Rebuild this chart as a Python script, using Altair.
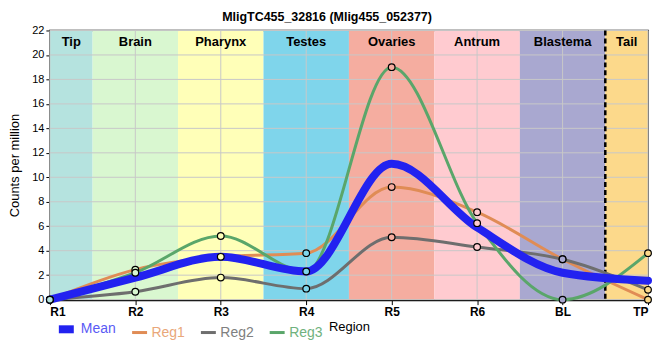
import json
import altair as alt
import pandas as pd

# ---- data ----
regions = ["R1", "R2", "R3", "R4", "R5", "R6", "BL", "TP"]
region_pos = [0, 1, 2, 3, 4, 5, 6, 7]
mean_vals = [0, 1.8, 3.5, 2.3, 11.1, 5.9, 2.2, 1.55]
reg1_vals = [0, 2.45, 3.5, 3.8, 9.2, 7.15, 3.3, 0]
reg2_vals = [0, 0.65, 1.8, 0.9, 5.1, 4.3, 3.3, 0.8]
reg3_vals = [0, 2.2, 5.2, 2.3, 19.0, 6.25, 0, 3.8]

band_names = ["Tip", "Brain", "Pharynx", "Testes", "Ovaries", "Antrum", "Blastema", "Tail"]
band_start = [0, 0.5, 1.5, 2.5, 3.5, 4.5, 5.5, 6.5]
band_end = [0.5, 1.5, 2.5, 3.5, 4.5, 5.5, 6.5, 7]
band_colors = ["#b5e3df", "#d9f7d0", "#ffffb8", "#7fd5eb", "#f5ada0",
               "#ffcbd0", "#a9a8d0", "#fcd98b"]

y_ticks = [0, 2, 4, 6, 8, 10, 12, 14, 16, 18, 20, 22]
tail_boundary = [6.5]

series_names = ["Mean", "Reg1", "Reg2", "Reg3"]
series_colors = ["#2222f0", "#e08c55", "#6e6e6e", "#5aa66a"]
series_widths = [8, 3, 3, 3]
label_colors = ["#5a5af5", "#e9a77a", "#808080", "#70b27e"]

# ---- tables ----
rows = []
for name, vals in zip(series_names, [mean_vals, reg1_vals, reg2_vals, reg3_vals]):
    for i, v in enumerate(vals):
        rows.append({"series": name, "x": region_pos[i], "value": v, "band": band_names[i]})
lines_df = pd.DataFrame(rows)
bands_df = pd.DataFrame({"band": band_names, "start": band_start, "end": band_end})
vgrid_df = pd.DataFrame({"x": region_pos})
hgrid_df = pd.DataFrame({"value": y_ticks})
dash_df = pd.DataFrame({"x": tail_boundary})

xscale = alt.Scale(domain=[0, 7], nice=False, zero=False)
yscale = alt.Scale(domain=[0, 22], nice=False)
fill_scale = alt.Scale(domain=band_names, range=band_colors)

x_axis = alt.Axis(values=region_pos, labelExpr=json.dumps(regions) + "[datum.value]",
                  grid=False, title="Region", labelFontWeight="bold", labelFontSize=12,
                  labelFont="Liberation Sans", labelColor="black", domainColor="black",
                  domainWidth=2, tickColor="black", tickSize=5, labelPadding=2,
                  titleFontWeight="normal", titleFontSize=13, titleFont="Liberation Sans",
                  titlePadding=3, titleColor="black")
y_axis = alt.Axis(values=y_ticks, grid=False, title="Counts per million",
                  labelFontSize=11, labelFont="Liberation Sans", labelColor="black",
                  domainColor="black", domainWidth=2, tickColor="black", tickSize=4,
                  titleFontWeight="normal", titleFontSize=13, titleFont="Liberation Sans",
                  titleColor="black", titlePadding=10)

label_map = json.dumps(dict(zip(series_names, label_colors)))
legend = alt.Legend(orient="none", legendX=5, legendY=288, direction="horizontal",
                    title=None, symbolType="stroke", symbolSize=225, labelFontSize=14,
                    labelFont="Liberation Sans", columnPadding=9, labelOffset=3,
                    labelColor=alt.ExprRef(label_map + "[datum.value]"))
stroke_enc = alt.Stroke("series:N", scale=alt.Scale(domain=series_names, range=series_colors),
                        legend=legend)
sw_enc = alt.StrokeWidth("series:N", scale=alt.Scale(type="ordinal", domain=series_names,
                                                     range=series_widths), legend=legend)

bands = alt.Chart(bands_df).mark_rect().encode(
    x=alt.X("start:Q", scale=xscale, axis=x_axis),
    x2="end:Q",
    fill=alt.Fill("band:N", scale=fill_scale, legend=None),
)

vgrid = alt.Chart(vgrid_df).mark_rule(color="#c8c8c8", strokeWidth=1).encode(
    x=alt.X("x:Q", scale=xscale, axis=x_axis)
)
hgrid = alt.Chart(hgrid_df).mark_rule(color="#c8c8c8", strokeWidth=1).encode(
    y=alt.Y("value:Q", scale=yscale, axis=y_axis)
)

band_labels = alt.Chart(bands_df).transform_calculate(
    mid="(datum.start + datum.end) / 2"
).mark_text(font="Liberation Sans", fontWeight="bold", fontSize=13, color="black",
            baseline="middle").encode(
    x=alt.X("mid:Q", scale=xscale, axis=x_axis),
    y=alt.value(12),
    text="band:N",
)

dash = alt.Chart(dash_df).mark_rule(color="black", strokeWidth=2.5, strokeDash=[5, 3]).encode(
    x=alt.X("x:Q", scale=xscale, axis=x_axis)
)

reg_lines = alt.Chart(lines_df).transform_filter("datum.series != 'Mean'").mark_line(
    interpolate="monotone", strokeCap="round").encode(
    x=alt.X("x:Q", scale=xscale, axis=x_axis),
    y=alt.Y("value:Q", scale=yscale, axis=y_axis),
    stroke=stroke_enc,
    strokeWidth=sw_enc,
    detail="series:N",
)
mean_line = alt.Chart(lines_df).transform_filter("datum.series == 'Mean'").mark_line(
    interpolate="monotone", strokeCap="round").encode(
    x=alt.X("x:Q", scale=xscale, axis=x_axis),
    y=alt.Y("value:Q", scale=yscale, axis=y_axis),
    stroke=stroke_enc,
    strokeWidth=sw_enc,
)

points = alt.Chart(lines_df).transform_filter("datum.series != 'Mean'").mark_point(
    shape="circle", filled=False, size=45, stroke="black", strokeWidth=1.2, opacity=1).encode(
    x=alt.X("x:Q", scale=xscale, axis=x_axis),
    y=alt.Y("value:Q", scale=yscale, axis=y_axis),
    fill=alt.Fill("band:N", scale=fill_scale, legend=None),
)

chart = alt.layer(bands, vgrid, hgrid, band_labels, dash, reg_lines, mean_line, points).properties(
    width=600,
    height=270,
    autosize=alt.AutoSizeParams(type="none"),
    padding={"left": 42, "top": 22, "right": 4, "bottom": 60},
    title=alt.TitleParams("MligTC455_32816 (Mlig455_052377)", font="Liberation Sans",
                          fontSize=12.5, fontWeight="bold", anchor="middle", dx=-22,
                          offset=1, color="black"),
).configure_view(stroke="black", strokeWidth=1.5)

chart.save("out.html", embed_options={"renderer": "svg", "actions": False})
